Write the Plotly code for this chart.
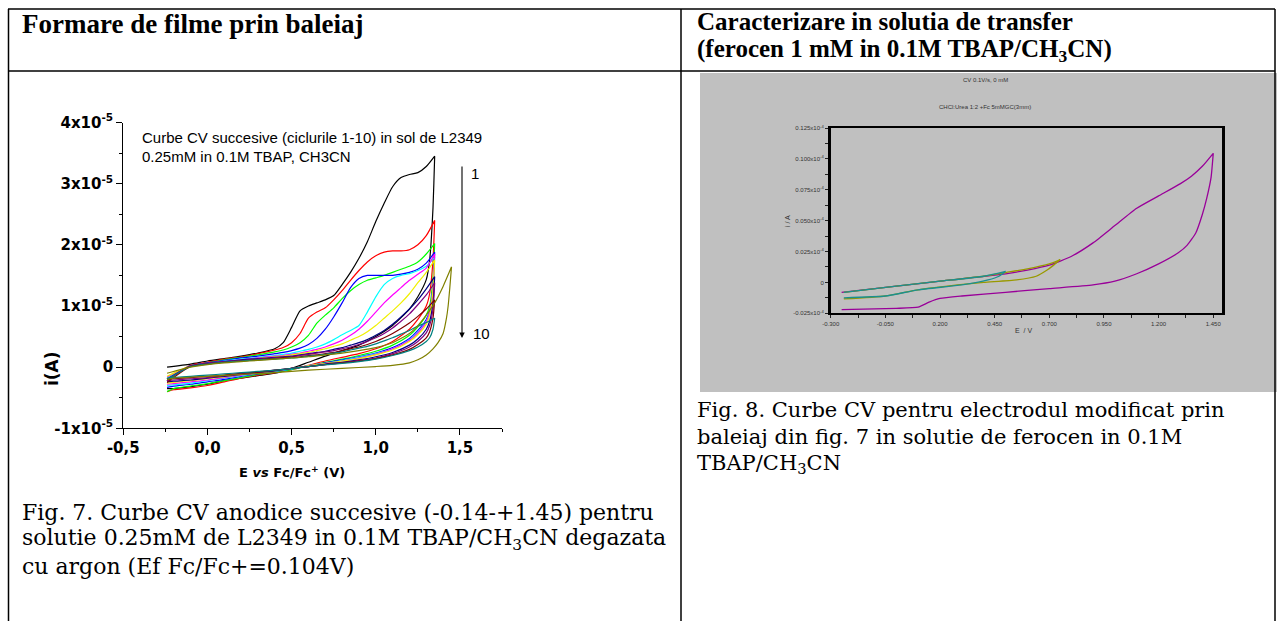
import plotly.graph_objects as go

W, H = 1277, 621
def px(x): return x / W
def py(y): return 1 - y / H

# ---------------- Fig. 7 data (current in units of 1e-5 A) ----------------
E_fwd = [-0.24, -0.1, 0.0, 0.1, 0.2, 0.3, 0.4, 0.45, 0.5, 0.55, 0.6, 0.65, 0.7, 0.75,
         0.8, 0.85, 0.9, 0.95, 1.0, 1.05, 1.1, 1.15, 1.2, 1.25, 1.3, 1.35]
E_rev = [1.35, 1.34, 1.32, 1.3, 1.25, 1.2, 1.1, 1.0, 0.9, 0.8, 0.7, 0.6, 0.5, 0.4,
         0.3, 0.2, 0.1, 0.0, -0.1, -0.2, -0.24]

c1_fwd = [0.0, 0.05, 0.10, 0.14, 0.18, 0.23, 0.30, 0.40, 0.65, 0.92, 1.0, 1.05, 1.1, 1.17,
          1.35, 1.55, 1.78, 2.05, 2.38, 2.68, 2.95, 3.1, 3.15, 3.18, 3.28, 3.45]
c1_rev = [3.45, 2.6, 1.75, 1.43, 1.15, 0.95, 0.68, 0.5, 0.36, 0.27, 0.18, 0.08, -0.02, -0.1,
          -0.14, -0.18, -0.22, -0.28, -0.32, -0.35, -0.35]
c2_fwd = [-0.2, 0.03, 0.08, 0.13, 0.17, 0.22, 0.28, 0.32, 0.40, 0.55, 0.80, 0.90, 0.97, 1.10,
          1.25, 1.42, 1.58, 1.72, 1.82, 1.88, 1.9, 1.9, 1.92, 2.0, 2.15, 2.4]
c2_rev = [2.4, 1.75, 1.2, 1.0, 0.78, 0.62, 0.42, 0.3, 0.22, 0.16, 0.1, 0.03, -0.04, -0.09,
          -0.13, -0.18, -0.24, -0.3, -0.34, -0.37, -0.4]
c3_fwd = [-0.22, 0.02, 0.07, 0.12, 0.16, 0.2, 0.25, 0.28, 0.33, 0.40, 0.52, 0.72, 0.85, 0.97,
          1.12, 1.25, 1.35, 1.42, 1.46, 1.5, 1.55, 1.6, 1.65, 1.72, 1.85, 2.02]
c3_rev = [2.02, 1.45, 1.0, 0.85, 0.66, 0.52, 0.36, 0.26, 0.19, 0.13, 0.08, 0.02, -0.04, -0.08,
          -0.12, -0.17, -0.22, -0.27, -0.31, -0.35, -0.4]
c4_fwd = [-0.2, 0.02, 0.07, 0.11, 0.15, 0.18, 0.22, 0.24, 0.27, 0.31, 0.37, 0.47, 0.62, 0.82,
          1.05, 1.3, 1.45, 1.5, 1.5, 1.5, 1.5, 1.52, 1.55, 1.6, 1.7, 1.88]
c4_rev = [1.88, 1.3, 0.92, 0.78, 0.6, 0.47, 0.32, 0.23, 0.17, 0.12, 0.07, 0.02, -0.03, -0.07,
          -0.11, -0.15, -0.2, -0.24, -0.28, -0.31, -0.33]
c5_fwd = [-0.18, 0.02, 0.06, 0.1, 0.13, 0.16, 0.19, 0.21, 0.23, 0.26, 0.29, 0.33, 0.38, 0.45,
          0.53, 0.6, 0.68, 0.9, 1.15, 1.35, 1.45, 1.5, 1.53, 1.58, 1.65, 1.8]
c5_rev = [1.8, 1.28, 0.9, 0.75, 0.57, 0.45, 0.3, 0.22, 0.16, 0.11, 0.06, 0.02, -0.03, -0.07,
          -0.1, -0.14, -0.18, -0.22, -0.26, -0.29, -0.3]
c6_fwd = [-0.16, 0.02, 0.06, 0.09, 0.12, 0.15, 0.18, 0.19, 0.21, 0.23, 0.26, 0.29, 0.33, 0.38,
          0.44, 0.52, 0.62, 0.75, 0.9, 1.05, 1.18, 1.3, 1.42, 1.52, 1.62, 1.85]
c6_rev = [1.85, 1.3, 0.9, 0.74, 0.56, 0.44, 0.3, 0.21, 0.15, 0.1, 0.06, 0.02, -0.02, -0.06,
          -0.1, -0.13, -0.17, -0.21, -0.24, -0.27, -0.28]
c7_fwd = [-0.15, 0.02, 0.05, 0.08, 0.11, 0.14, 0.17, 0.18, 0.2, 0.22, 0.24, 0.27, 0.3, 0.34,
          0.38, 0.44, 0.5, 0.58, 0.68, 0.8, 0.92, 1.05, 1.2, 1.38, 1.55, 1.75]
c7_rev = [1.75, 1.25, 0.85, 0.7, 0.53, 0.42, 0.28, 0.2, 0.14, 0.1, 0.06, 0.02, -0.02, -0.06,
          -0.09, -0.12, -0.16, -0.19, -0.22, -0.25, -0.26]
c8_fwd = [-0.2, 0.02, 0.06, 0.09, 0.12, 0.14, 0.16, 0.17, 0.18, 0.2, 0.22, 0.24, 0.26, 0.29,
          0.32, 0.36, 0.4, 0.45, 0.52, 0.6, 0.7, 0.82, 0.95, 1.1, 1.28, 1.48]
c8_rev = [1.48, 1.05, 0.75, 0.62, 0.46, 0.36, 0.24, 0.17, 0.12, 0.08, 0.05, 0.01, -0.02, -0.06,
          -0.09, -0.12, -0.15, -0.18, -0.21, -0.23, -0.24]
c9_fwd = [-0.22, 0.02, 0.06, 0.09, 0.11, 0.13, 0.15, 0.16, 0.17, 0.19, 0.21, 0.23, 0.25, 0.27,
          0.3, 0.33, 0.37, 0.42, 0.48, 0.55, 0.64, 0.75, 0.87, 1.02, 1.18, 1.38]
c9_rev = [1.38, 0.95, 0.68, 0.56, 0.42, 0.33, 0.22, 0.15, 0.11, 0.07, 0.04, 0.01, -0.02, -0.05,
          -0.08, -0.11, -0.14, -0.17, -0.19, -0.21, -0.22]
c10_fwd = [-0.25, 0.01, 0.05, 0.08, 0.1, 0.12, 0.14, 0.15, 0.16, 0.17, 0.19, 0.2, 0.22, 0.24,
           0.27, 0.3, 0.33, 0.37, 0.42, 0.48, 0.55, 0.63, 0.72, 0.83, 0.95, 1.1]
c10_rev = [1.1, 0.8, 0.58, 0.48, 0.37, 0.29, 0.2, 0.14, 0.1, 0.07, 0.04, 0.01, -0.02, -0.05,
           -0.08, -0.1, -0.13, -0.15, -0.17, -0.19, -0.2]
c11_fwd = [-0.2, 0.01, 0.05, 0.08, 0.1, 0.12, 0.13, 0.14, 0.15, 0.16, 0.18, 0.19, 0.21, 0.23,
           0.25, 0.28, 0.31, 0.34, 0.38, 0.43, 0.48, 0.54, 0.6, 0.67, 0.73, 0.8]
c11_rev = [0.8, 0.62, 0.48, 0.42, 0.33, 0.27, 0.19, 0.13, 0.09, 0.06, 0.04, 0.01, -0.02, -0.05,
           -0.07, -0.09, -0.11, -0.13, -0.15, -0.17, -0.18]

E_olive_fwd = [-0.24, -0.1, 0.0, 0.1, 0.2, 0.3, 0.4, 0.5, 0.6, 0.7, 0.8, 0.9, 1.0, 1.1, 1.2,
               1.25, 1.3, 1.35, 1.4, 1.45]
olive_fwd = [-0.1, 0.0, 0.04, 0.07, 0.09, 0.11, 0.13, 0.15, 0.17, 0.2, 0.23, 0.27, 0.32, 0.4,
             0.55, 0.68, 0.85, 1.05, 1.32, 1.64]
E_olive_rev = [1.45, 1.44, 1.43, 1.42, 1.4, 1.37, 1.34, 1.3, 1.25, 1.2, 1.1, 1.0, 0.8, 0.6,
               0.4, 0.2, 0.0, -0.2, -0.24]
olive_rev = [1.64, 1.3, 1.0, 0.8, 0.55, 0.4, 0.3, 0.2, 0.12, 0.07, 0.03, 0.01, -0.02, -0.05,
             -0.09, -0.12, -0.15, -0.18, -0.2]

cycles = [
    ("#000000", c1_fwd, c1_rev), ("#FF0000", c2_fwd, c2_rev), ("#00FF00", c3_fwd, c3_rev),
    ("#0000FF", c4_fwd, c4_rev), ("#00FFFF", c5_fwd, c5_rev), ("#FF00FF", c6_fwd, c6_rev),
    ("#F0F000", c7_fwd, c7_rev), ("#000080", c8_fwd, c8_rev), ("#800080", c9_fwd, c9_rev),
    ("#800000", c10_fwd, c10_rev), ("#008080", c11_fwd, c11_rev),
]
SCALE7 = 1e-5

# ---------------- Fig. 8 data (current in units of 1e-4 A) ----------------
p_fwd_E = [-0.25, 0.0, 0.25, 0.5, 0.6, 0.7, 0.8, 0.9, 1.0, 1.1, 1.2, 1.3, 1.35, 1.4, 1.45]
p_fwd_i = [-0.008, -0.003, 0.002, 0.007, 0.01, 0.014, 0.021, 0.032, 0.046, 0.06, 0.07, 0.08,
           0.086, 0.094, 0.1045]
p_rev_E = [1.45, 1.44, 1.42, 1.4, 1.37, 1.33, 1.29, 1.2, 1.1, 1.0, 0.9, 0.7, 0.5, 0.3, 0.2,
           0.15, 0.1, 0.0, -0.25]
p_rev_i = [0.1045, 0.085, 0.068, 0.055, 0.04, 0.03, 0.024, 0.015, 0.007, 0.001, -0.002, -0.005,
           -0.008, -0.011, -0.013, -0.016, -0.02, -0.021, -0.022]
t_fwd_E = [-0.24, 0.0, 0.2, 0.4, 0.5]
t_fwd_i = [-0.008, -0.003, 0.001, 0.005, 0.009]
t_rev_E = [0.5, 0.47, 0.42, 0.3, 0.1, -0.05, -0.24]
t_rev_i = [0.009, 0.005, 0.002, -0.002, -0.006, -0.011, -0.0125]
o_fwd_E = [-0.24, 0.0, 0.2, 0.4, 0.5, 0.6, 0.7, 0.75]
o_fwd_i = [-0.008, -0.003, 0.001, 0.005, 0.008, 0.011, 0.015, 0.0185]
o_rev_E = [0.75, 0.72, 0.69, 0.64, 0.55, 0.4, 0.28, 0.1, -0.05, -0.24]
o_rev_i = [0.0185, 0.014, 0.01, 0.005, 0.002, 0.0, -0.002, -0.006, -0.011, -0.0134]
SCALE8 = 1e-4

fig = go.Figure()

for color, fw, rv in cycles:
    fig.add_trace(go.Scatter(x=E_fwd + E_rev, y=[v * SCALE7 for v in fw + rv], mode="lines",
                             line=dict(color=color, width=1.2, shape="spline", smoothing=0.6),
                             xaxis="x", yaxis="y", showlegend=False))
fig.add_trace(go.Scatter(x=E_olive_fwd + E_olive_rev,
                         y=[v * SCALE7 for v in olive_fwd + olive_rev], mode="lines",
                         line=dict(color="#808000", width=1.2, shape="spline", smoothing=0.6),
                         xaxis="x", yaxis="y", showlegend=False))

for E, I, col in [(p_fwd_E + p_rev_E, p_fwd_i + p_rev_i, "#990099"),
                  (o_fwd_E + o_rev_E, o_fwd_i + o_rev_i, "#999900"),
                  (t_fwd_E + t_rev_E, t_fwd_i + t_rev_i, "#1A9090")]:
    fig.add_trace(go.Scatter(x=E, y=[v * SCALE8 for v in I], mode="lines",
                             line=dict(color=col, width=1.3, shape="spline", smoothing=0.5),
                             xaxis="x2", yaxis="y2", showlegend=False))

ARIAL = "Arial, Liberation Sans, sans-serif"
WIDE = "DejaVu Sans, Arial, sans-serif"
TIMES = "Times New Roman, Liberation Serif, serif"
SERIF_WIDE = "DejaVu Serif, Liberation Serif, serif"

y7_vals = [-1e-5, 0, 1e-5, 2e-5, 3e-5, 4e-5]
y7_text = ["<b>-1x10<sup>-5</sup></b>", "<b>0</b>", "<b>1x10<sup>-5</sup></b>",
           "<b>2x10<sup>-5</sup></b>", "<b>3x10<sup>-5</sup></b>", "<b>4x10<sup>-5</sup></b>"]
x7_vals = [-0.5, 0.0, 0.5, 1.0, 1.5]
x7_text = ["<b>-0,5</b>", "<b>0,0</b>", "<b>0,5</b>", "<b>1,0</b>", "<b>1,5</b>"]

y8_vals = [-0.025e-4, 0, 0.025e-4, 0.05e-4, 0.075e-4, 0.1e-4, 0.125e-4]
y8_text = ["-0.025x10<sup>-4</sup>", "0", "0.025x10<sup>-4</sup>", "0.050x10<sup>-4</sup>",
           "0.075x10<sup>-4</sup>", "0.100x10<sup>-4</sup>", "0.125x10<sup>-4</sup>"]
x8_vals = [-0.3, -0.05, 0.2, 0.45, 0.7, 0.95, 1.2, 1.45]
x8_text = ["-0.300", "-0.050", "0.200", "0.450", "0.700", "0.950", "1.200", "1.450"]

fig.update_layout(
    width=W, height=H, margin=dict(l=0, r=0, t=0, b=0, pad=0), autosize=False,
    paper_bgcolor="white", plot_bgcolor="white", showlegend=False,
    xaxis=dict(domain=[px(123.3), px(502)], range=[-0.5, 1.75], anchor="y", automargin=False,
               showline=True, linecolor="black", linewidth=1.3, showgrid=False, zeroline=False,
               ticks="outside", ticklen=6, tickwidth=1.2, tickcolor="black",
               tickmode="array", tickvals=x7_vals, ticktext=x7_text,
               tickfont=dict(family=WIDE, size=15, color="black"),
               minor=dict(tickmode="array", tickvals=[-0.25, 0.25, 0.75, 1.25, 1.75],
                          ticks="outside", ticklen=3, tickcolor="black")),
    yaxis=dict(domain=[py(428.3), py(122.5)], range=[-1e-5, 4e-5], anchor="x", automargin=False,
               showline=True, linecolor="black", linewidth=1.3, showgrid=False, zeroline=False,
               ticks="outside", ticklen=6, tickwidth=1.2, tickcolor="black",
               tickmode="array", tickvals=y7_vals, ticktext=y7_text,
               tickfont=dict(family=WIDE, size=15, color="black"),
               minor=dict(tickmode="array",
                          tickvals=[-0.5e-5, 0.5e-5, 1.5e-5, 2.5e-5, 3.5e-5],
                          ticks="outside", ticklen=3, tickcolor="black")),
    xaxis2=dict(domain=[px(830.7), px(1222)], range=[-0.3, 1.49], anchor="y2", automargin=False,
                showline=True, linecolor="black", linewidth=2, mirror=True,
                showgrid=False, zeroline=False,
                ticks="outside", ticklen=3, tickwidth=1.2, tickcolor="#222",
                tickmode="array", tickvals=x8_vals, ticktext=x8_text,
                tickfont=dict(family=ARIAL, size=6, color="#333"),
                minor=dict(tickmode="array",
                           tickvals=[-0.175, 0.075, 0.325, 0.575, 0.825, 1.075, 1.325],
                           ticks="outside", ticklen=3, tickcolor="#222")),
    yaxis2=dict(domain=[py(313.3), py(128)], range=[-0.025e-4, 0.125e-4], anchor="x2",
                automargin=False,
                showline=True, linecolor="black", linewidth=2.5, mirror=True,
                showgrid=False, zeroline=False,
                ticks="outside", ticklen=3, tickwidth=1.2, tickcolor="#222",
                tickmode="array", tickvals=y8_vals, ticktext=y8_text,
                tickfont=dict(family=ARIAL, size=6, color="#333"),
                minor=dict(tickmode="array",
                           tickvals=[-0.0125e-4, 0.0125e-4, 0.0375e-4, 0.0625e-4,
                                     0.0875e-4, 0.1125e-4],
                           ticks="outside", ticklen=3, tickcolor="#222")),
)

# ---------------- table lines & grey panel ----------------
shapes = []
def hline(y, x0, x1, w=1.5):
    shapes.append(dict(type="line", xref="paper", yref="paper", x0=px(x0), x1=px(x1),
                       y0=py(y), y1=py(y), line=dict(color="black", width=w)))
def vline(x, y0, y1, w=1.5):
    shapes.append(dict(type="line", xref="paper", yref="paper", x0=px(x), x1=px(x),
                       y0=py(y0), y1=py(y1), line=dict(color="black", width=w)))
hline(9, 8, 1275)
hline(71, 8, 1275)
vline(8.5, 9, 621)
vline(681, 9, 621)
vline(1275, 9, 621)
shapes.append(dict(type="rect", xref="paper", yref="paper", x0=px(700), x1=px(1277),
                   y0=py(392), y1=py(73), fillcolor="#C0C0C0", line=dict(width=0),
                   layer="below"))
fig.update_layout(shapes=shapes)

ann = []
def text(x, y, s, size, family, xanchor="left", angle=0, color="black"):
    ann.append(dict(x=px(x), y=py(y), xref="paper", yref="paper", text=s, showarrow=False,
                    xanchor=xanchor, yanchor="middle", textangle=angle,
                    font=dict(family=family, size=size, color=color)))

# headers
text(20, 24, "<b>Formare de filme prin baleiaj</b>", 27, TIMES)
text(695, 21, "<b>Caracterizare in solutia de transfer</b>", 25, TIMES)
text(695, 50, "<b>(ferocen 1 mM in 0.1M TBAP/CH<sub>3</sub>CN)</b>", 25, TIMES)

# Fig 7 inside texts
text(140, 137, "Curbe CV succesive (ciclurile 1-10) in sol de L2349", 15, ARIAL)
text(140, 156, "0.25mM in 0.1M TBAP, CH3CN", 15, ARIAL)
text(469, 173, "1", 15, ARIAL)
text(471, 334, "10", 15, ARIAL)
text(52, 369, "<b>i(A)</b>", 17, WIDE, xanchor="center", angle=-90)
text(292, 472, "<b>E <i>vs</i> Fc/Fc<sup>+</sup> (V)</b>", 13, WIDE, xanchor="center")
ann.append(dict(x=px(462), y=py(338), xref="paper", yref="paper", ax=0, ay=-173,
                axref="pixel", ayref="pixel", text="", showarrow=True, arrowhead=2,
                arrowsize=1, arrowwidth=1.1, arrowcolor="black"))

# Fig 8 texts
text(985, 80, "CV 0.1V/s, 0 mM", 6, ARIAL, xanchor="center", color="#333")
text(985, 107, "CHCl:Urea 1:2 +Fc 5mMGC(3mm)", 6, ARIAL, xanchor="center", color="#333")
text(1023, 330, "E  / V", 7, ARIAL, xanchor="center", color="#333")
text(787, 221, "i / A", 7, ARIAL, xanchor="center", angle=-90, color="#333")

# captions
text(20, 512, "Fig. 7. Curbe CV anodice succesive (-0.14-+1.45) pentru", 22, SERIF_WIDE)
text(20, 539, "solutie 0.25mM de L2349 in 0.1M TBAP/CH<sub>3</sub>CN degazata", 22, SERIF_WIDE)
text(20, 566, "cu argon (Ef Fc/Fc+=0.104V)", 22, SERIF_WIDE)
text(695, 410, "Fig. 8. Curbe CV pentru electrodul modificat prin", 21, SERIF_WIDE)
text(695, 437, "baleiaj din fig. 7 in solutie de ferocen in 0.1M", 21, SERIF_WIDE)
text(695, 464, "TBAP/CH<sub>3</sub>CN", 21, SERIF_WIDE)

fig.update_layout(annotations=ann)
fig.write_html("out.html")
